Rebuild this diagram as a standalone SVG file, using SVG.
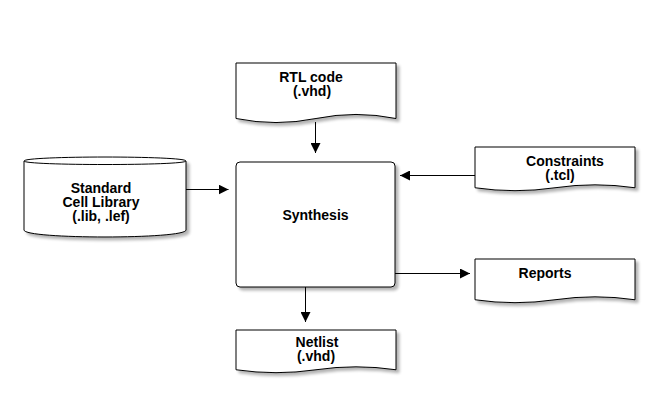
<svg xmlns="http://www.w3.org/2000/svg" width="660" height="406" viewBox="0 0 660 406">
<style>
.shape{fill:#ffffff;stroke:#000000;stroke-width:1;filter:url(#sh)}
.lbl{font-family:"Liberation Sans",Arial,sans-serif;font-weight:bold;font-size:14px;fill:#000000;text-anchor:middle}
.edge{fill:none;stroke:#000000;stroke-width:1;marker-end:url(#arr)}
</style>
<defs>
<filter id="sh" x="-10%" y="-10%" width="130%" height="140%">
<feGaussianBlur in="SourceAlpha" stdDeviation="1.5"/>
<feOffset dx="3" dy="3" result="b"/>
<feComponentTransfer><feFuncA type="linear" slope="0.3"/></feComponentTransfer>
<feMerge><feMergeNode/><feMergeNode in="SourceGraphic"/></feMerge>
</filter>
<marker id="arr" viewBox="0 0 10 10" refX="10" refY="5" markerWidth="10" markerHeight="10" markerUnits="userSpaceOnUse" orient="auto">
<path d="M0,0 L10,5 L0,10 Z" fill="#000000"/>
</marker>
</defs>
<rect width="660" height="406" fill="#ffffff"/>
<g id="connectors">
<path class="edge" d="M315.5,122 V153"/>
<path class="edge" d="M186,189.5 H228.5"/>
<path class="edge" d="M475,175.5 H400"/>
<path class="edge" d="M395,273.5 H470"/>
<path class="edge" d="M305.5,287 V322"/>
</g>
<g id="rtl">
<path class="shape" d="M236,63 H396 V118.5 Q356,110.4 316,118.5 Q276,126.6 236,118.5 Z"/>
<text class="lbl" x="311" y="81.5">RTL code</text>
<text class="lbl" x="312" y="95.5">(.vhd)</text>
</g>
<g id="library">
<path class="shape" d="M24,161 C24,155.7 186,155.7 186,161 V230 C186,239.3 24,239.3 24,230 Z"/>
<path d="M24,161 C24,165.7 186,165.7 186,161" fill="none" stroke="#000000" stroke-width="1"/>
<text class="lbl" x="101" y="193">Standard</text>
<text class="lbl" x="101" y="207">Cell Library</text>
<text class="lbl" x="101" y="221">(.lib, .lef)</text>
</g>
<g id="synthesis">
<rect class="shape" x="236" y="162" width="159" height="125" rx="4" ry="4"/>
<text class="lbl" x="315.5" y="220">Synthesis</text>
</g>
<g id="constraints">
<path class="shape" d="M475,147 H635 V187.75 Q595,181.9 555,187.75 Q515,193.6 475,187.75 Z"/>
<text class="lbl" x="565" y="165.5">Constraints</text>
<text class="lbl" x="560" y="179.5">(.tcl)</text>
</g>
<g id="reports">
<path class="shape" d="M475,259 H635 V299.75 Q595,293.9 555,299.75 Q515,305.6 475,299.75 Z"/>
<text class="lbl" x="545" y="278">Reports</text>
</g>
<g id="netlist">
<path class="shape" d="M236,330 H396 V369.75 Q356,363.9 316,369.75 Q276,375.6 236,369.75 Z"/>
<text class="lbl" x="317" y="346.5">Netlist</text>
<text class="lbl" x="316" y="360.5">(.vhd)</text>
</g>
</svg>
